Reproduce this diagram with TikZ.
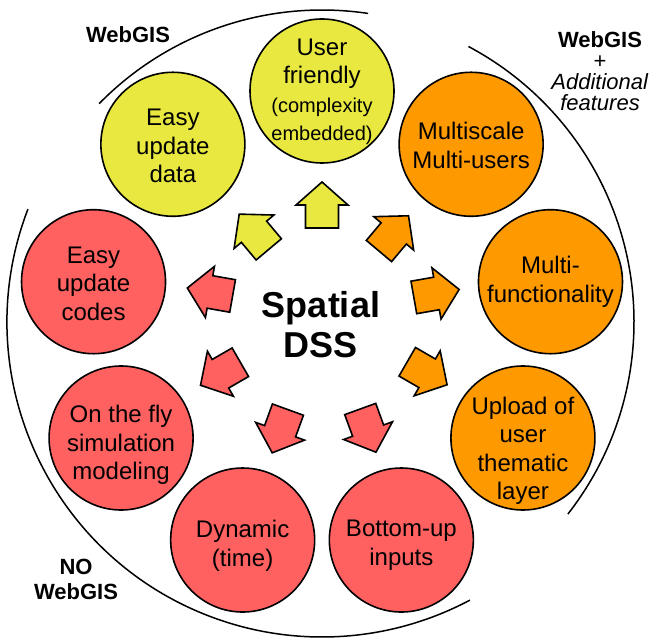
\documentclass[tikz,border=0pt]{standalone}
\usepackage{fontspec}
\setmainfont{Liberation Sans}
\definecolor{cyel}{RGB}{232,232,64}
\definecolor{corg}{RGB}{255,153,0}
\definecolor{cred}{RGB}{255,97,97}
\begin{document}
\begin{tikzpicture}[x=1pt,y=1pt,
  bubble/.style={circle, draw=black, line width=1.6pt, minimum size=144pt, inner sep=0pt},
  bubbletext/.style={align=center, inner sep=0pt, font=\fontsize{24}{28.5}\selectfont},
  blockarrow/.style={draw=black, line width=1.6pt, line join=miter},
  ringarc/.style={draw=black, line width=1.5pt},
  grouplabel/.style={align=center, font=\fontsize{22}{25}\selectfont\bfseries}]
\useasboundingbox (0,0) rectangle (652,637);
\begin{scope}[shift={(322,315)}]
  % bubbles
  \node[bubble, fill=cyel] (ed) at (130:232) {};
  \node[bubble, fill=cyel] (uf) at (90:231) {};
  \node[bubble, fill=corg] (ms) at (50:232) {};
  \node[bubble, fill=corg] (mf) at (10:232) {};
  \node[bubble, fill=corg] (up) at (-30:232) {};
  \node[bubble, fill=cred] (bu) at (-70:232) {};
  \node[bubble, fill=cred] (dy) at (-110:232) {};
  \node[bubble, fill=cred] (of) at (-150:232) {};
  \node[bubble, fill=cred] (ec) at (170:232) {};
  % bubble texts
  \node[bubbletext, yshift=-2] (ed-t) at (ed) {Easy\\update\\data};
  \node[bubbletext, yshift=-1] (uf-t) at (uf) {User\\friendly\\\fontsize{20}{25}\selectfont(complexity\\\fontsize{20}{25}\selectfont embedded)};
  \node[bubbletext, yshift=-1] (ms-t) at (ms) {Multiscale\\Multi-users};
  \node[bubbletext] (mf-t) at (mf) {Multi-\\functionality};
  \node[bubbletext, yshift=-13] (up-t) at (up) {Upload of\\user\\thematic\\layer};
  \node[bubbletext, yshift=-5] (bu-t) at (bu) {Bottom-up\\inputs};
  \node[bubbletext, yshift=-6] (dy-t) at (dy) {Dynamic\\(time)};
  \node[bubbletext, yshift=-7] (of-t) at (of) {On the fly\\simulation\\modeling};
  \node[bubbletext, yshift=-2] (ec-t) at (ec) {Easy\\update\\codes};
  % centre
  \node[align=center, font=\fontsize{36}{40}\selectfont\bfseries] (dss) at (-1,-3) {Spatial\\DSS};
  % block arrows
  \foreach \a/\r/\d/\c in {90/117/90/cyel, 127/113/130/cyel, 51/114/50/corg, 14/118/10/corg, -26/117/-30/corg, -67/118/-70/cred, -111/117/-110/cred, -153/114/-150/cred, 165/116/170/cred}
    \draw[blockarrow, fill=\c, shift={(\a:\r)}, rotate=\d]
      (-23,-16.5) -- (0,-16.5) -- (0,-26) -- (23,0) -- (0,26) -- (0,16.5) -- (-23,16.5) -- cycle;
  % group arcs
  \draw[ringarc] (81.5:312) arc[start angle=81.5, end angle=135.6, radius=312];
  \draw[ringarc] (-38:312) arc[start angle=-38, end angle=62, radius=312];
  \draw[ringarc] (159:315) arc[start angle=159, end angle=298, radius=315];
\end{scope}
% group labels
\node[grouplabel] (lweb) at (128,602) {WebGIS};
\node[grouplabel, font=\fontsize{22}{21}\selectfont] (lwebplus) at (600,566) {\textbf{WebGIS}\\+\\\textit{Additional}\\\textit{features}};
\node[grouplabel] (lno) at (76,58) {NO\\WebGIS};
\end{tikzpicture}
\end{document}
